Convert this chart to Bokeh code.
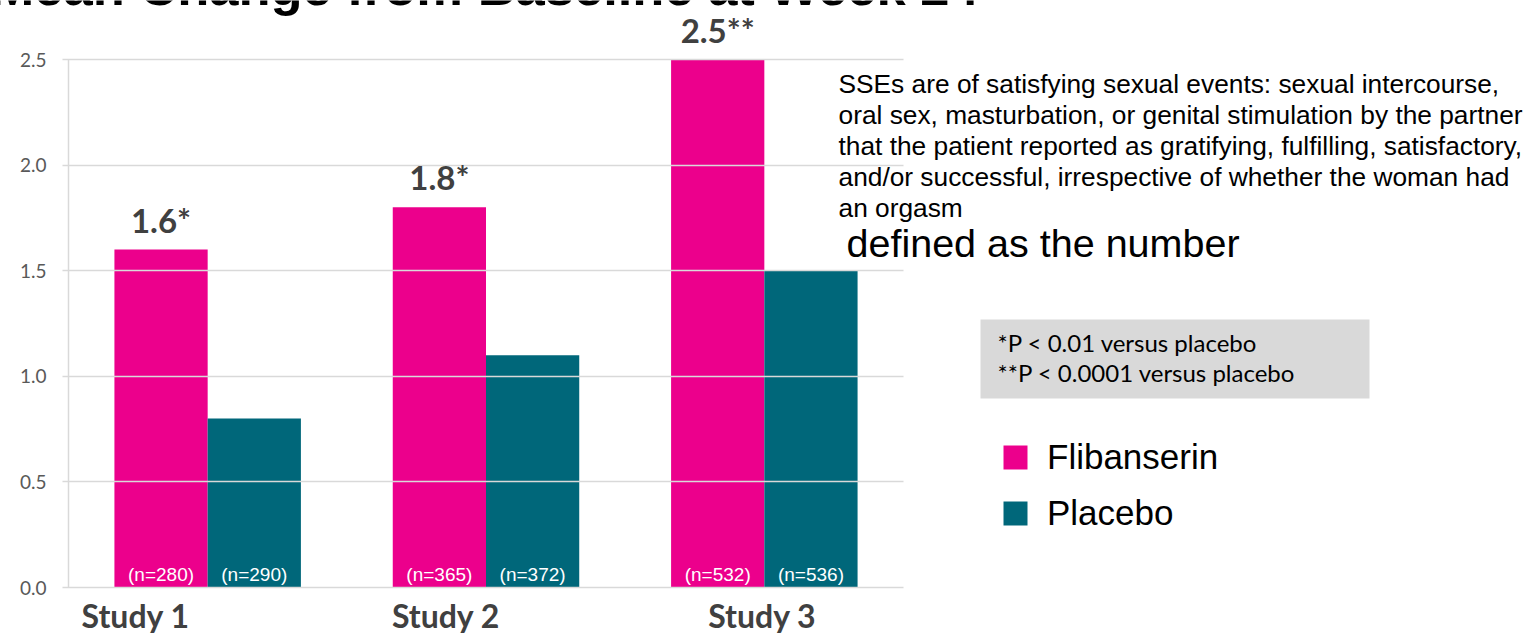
from bokeh.plotting import figure
from bokeh.models import (ColumnDataSource, Range1d, LabelSet, Label, Legend,
                          LegendItem, BoxAnnotation, NumeralTickFormatter, FixedTicker)
from bokeh.transform import dodge
from bokeh.core.properties import value
from bokeh.embed import file_html
from bokeh.resources import INLINE

# ---- data -------------------------------------------------------------
studies = ["Study 1", "Study 2", "Study 3"]
flibanserin = [1.6, 1.8, 2.5]
placebo = [0.8, 1.1, 1.5]
significance = ["*", "*", "**"]
n_flibanserin = [280, 365, 532]
n_placebo = [290, 372, 536]
y_ticks = [0.0, 0.5, 1.0, 1.5, 2.0, 2.5]
series = ["Flibanserin", "Placebo"]

title_text = "Mean Change from Baseline at Week 24"
sse_lines = [
    "SSEs are of satisfying sexual events: sexual intercourse,",
    "oral sex, masturbation, or genital stimulation by the partner",
    "that the patient reported as gratifying, fulfilling, satisfactory,",
    "and/or successful, irrespective of whether the woman had",
    "an orgasm",
]
sse_heading = "defined as the number"
footnotes = ["*P < 0.01 versus placebo", "**P < 0.0001 versus placebo"]

# ---- styling / layout -------------------------------------------------
PINK = "#EC008C"
TEAL = "#00677A"
GRID = "#D9D9D9"
DARK = "#404040"
W, H = 1529, 634
LEFT, TOP, RIGHT, BOTTOM = 68, 59, 903, 587   # chart area on the canvas
Y_MAX = 2.5
BAR_W = 0.335
study_label_shift = [-72, -40, -2]

# The frame covers the whole canvas; the ranges are widened so that the
# chart itself (3 study slots, 0..2.5) lands in its box on the page.
n_slots = len(studies)
px_x = (RIGHT - LEFT) / n_slots
px_y = (BOTTOM - TOP) / Y_MAX
x_range = Range1d(-LEFT / px_x, (W - LEFT) / px_x)
y_range = Range1d(-(H - BOTTOM) / px_y, Y_MAX + TOP / px_y)


def cy(y_from_top):
    """page row -> frame-relative screen y (measured upward)"""
    return H - y_from_top


src = ColumnDataSource(dict(
    pos=[i + 0.5 for i in range(n_slots)],
    study=studies,
    flib=flibanserin,
    plac=placebo,
    flib_lbl=[f"{v:.1f}{s}" for v, s in zip(flibanserin, significance)],
    nf=[f"(n={n})" for n in n_flibanserin],
    np_=[f"(n={n})" for n in n_placebo],
    zero=[0] * n_slots,
    dx=study_label_shift,
))

p = figure(
    width=W, height=H,
    x_range=x_range, y_range=y_range,
    output_backend="svg", toolbar_location=None,
    x_axis_location=None,
    min_border=0,
)
p.outline_line_color = None
p.xgrid.visible = False
p.ygrid.visible = False

r_f = p.vbar(x=dodge("pos", -BAR_W / 2), top="flib", width=BAR_W,
             source=src, fill_color=PINK, line_color=None)
r_p = p.vbar(x=dodge("pos", BAR_W / 2), top="plac", width=BAR_W,
             source=src, fill_color=TEAL, line_color=None)

# value axis pinned to the chart's left edge; its inward ticks run across
# the chart and serve as the horizontal gridlines
ax = p.yaxis[0]
ax.fixed_location = 0
ax.bounds = (0, Y_MAX)
ax.ticker = FixedTicker(ticks=y_ticks)
ax.formatter = NumeralTickFormatter(format="0.0")
ax.axis_line_color = GRID
ax.axis_line_width = 1.5
ax.major_tick_line_color = GRID
ax.major_tick_line_width = 1.5
ax.major_tick_out = 6
ax.major_tick_in = RIGHT - LEFT
ax.minor_tick_line_color = None
ax.major_label_standoff = 16
ax.major_label_text_font = "Lato"
ax.major_label_text_font_size = "19px"
ax.major_label_text_color = "#595959"

# value labels above the Flibanserin bars
p.add_layout(LabelSet(x=dodge("pos", -BAR_W / 2), y="flib",
                      text="flib_lbl", source=src, y_offset=17,
                      text_align="center", text_baseline="alphabetic",
                      text_font=value("Lato"), text_font_style="bold",
                      text_font_size="33px", text_color=DARK))

# sample sizes inside the bars
for col, off in (("nf", -BAR_W / 2), ("np_", BAR_W / 2)):
    p.add_layout(LabelSet(x=dodge("pos", off), y="zero",
                          text=col, source=src, y_offset=7,
                          text_align="center", text_baseline="alphabetic",
                          text_font=value("Liberation Sans"),
                          text_font_size="19px", text_color="white"))

# study names under the baseline
p.add_layout(LabelSet(x="pos", y="zero", text="study", source=src,
                      x_offset="dx", y_offset=-28,
                      text_align="center", text_baseline="middle",
                      text_font=value("Lato"), text_font_style="bold",
                      text_font_size="32px", text_color=DARK))


def page_text(x, y, text, size, font="Liberation Sans", style="normal"):
    p.add_layout(Label(x=x, y=cy(y), x_units="screen", y_units="screen",
                       text=text, text_align="left", text_baseline="middle",
                       text_font=font, text_font_style=style,
                       text_font_size=size, text_color="black"))


# title running off the top of the page
page_text(-10, -14, title_text, "52.5px", style="bold")

# SSE definition
for i, line in enumerate(sse_lines):
    page_text(838, 83 + 31 * i, line, "26.3px")
page_text(846, 242, sse_heading, "39.5px")

# footnote box
p.add_layout(BoxAnnotation(left=980, right=1369, top=cy(319), bottom=cy(398),
                           left_units="screen", right_units="screen",
                           top_units="screen", bottom_units="screen",
                           fill_color="#D9D9D9", fill_alpha=1, line_color=None))
for i, line in enumerate(footnotes):
    page_text(997, 342 + 30 * i, line, "24px", font="Lato")

# legend
legend = Legend(
    items=[LegendItem(label=series[0], renderers=[r_f]),
           LegendItem(label=series[1], renderers=[r_p])],
    location=(1000, cy(533)),
    orientation="vertical",
    padding=0, margin=0, spacing=16,
    glyph_width=30, glyph_height=30, label_standoff=17,
    label_text_font="Liberation Sans", label_text_font_size="35px",
    label_text_color="black",
    background_fill_alpha=0, border_line_color=None,
)
p.add_layout(legend)

open("out.html", "w").write(file_html(p, INLINE))
